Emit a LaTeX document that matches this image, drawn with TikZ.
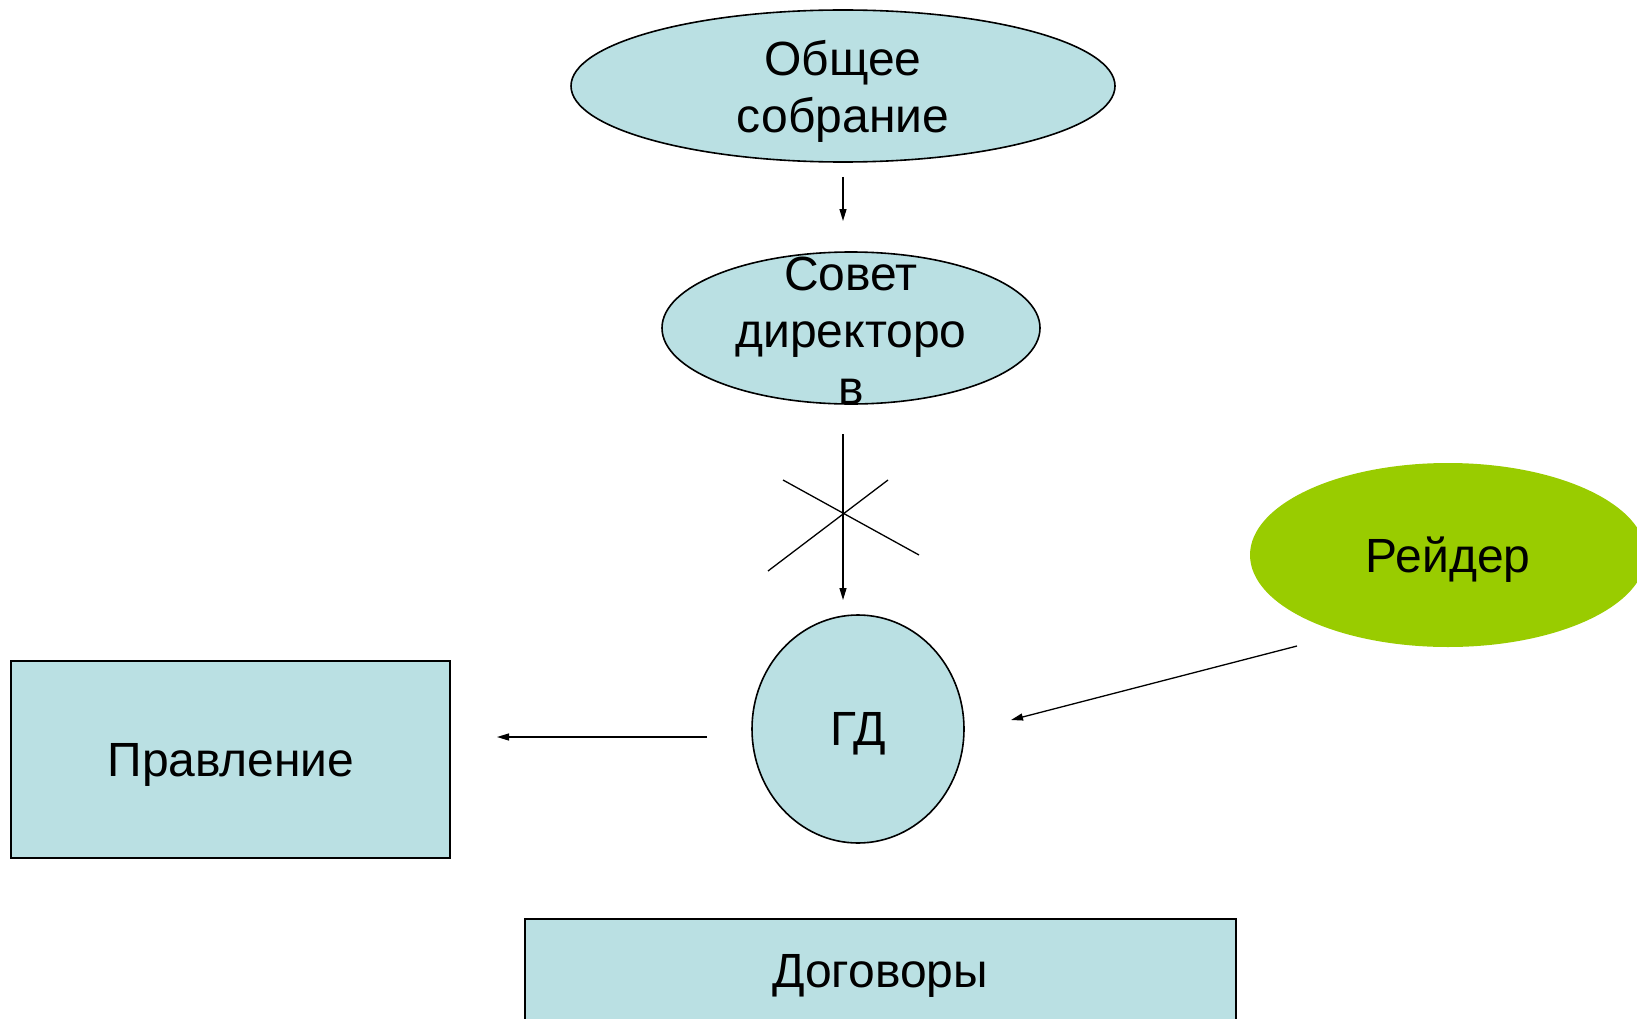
\documentclass[tikz,border=0pt]{standalone}
\usepackage{fontspec}
\setmainfont{Liberation Sans}
\usetikzlibrary{shapes.geometric,arrows.meta}
\definecolor{lblue}{RGB}{186,224,227}
\definecolor{rgreen}{RGB}{153,204,0}
\begin{document}
\begin{tikzpicture}[x=1pt,y=-1pt,
  shapebox/.style={draw=black,line width=1.6pt,fill=lblue,inner sep=0pt},
  oval/.style={shapebox,ellipse},
  lbl/.style={font=\fontsize{48}{56}\selectfont,align=center,inner sep=0pt},
  conn/.style={line width=1.3pt,-{Triangle[length=12pt,width=7pt]}},
  cross/.style={line width=1.3pt}]
\useasboundingbox (0,0) rectangle (1637,1019);
\clip (0,0) rectangle (1637,1019);
% nodes
\node[oval,minimum width=544pt,minimum height=152pt] (os) at (843,86) {};
\node[lbl,font=\fontsize{48}{57}\selectfont] (ost) at (843,91) {Общее\\собрание};
\node[oval,minimum width=378pt,minimum height=152pt] (sd) at (851,328) {};
\node[lbl,font=\fontsize{48}{57}\selectfont] (sdt) at (851,331) {Совет\\директоро\\в};
\node[oval,minimum width=212pt,minimum height=228pt] (gd) at (858,729) {};
\node[lbl] (gdt) at (858,734) {ГД};
\node[ellipse,fill=rgreen,inner sep=0pt,minimum width=396pt,minimum height=184pt] (rd) at (1448,555) {};
\node[lbl] (rdt) at (1448,560) {Рейдер};
\node[shapebox,rectangle,minimum width=439pt,minimum height=197pt] (pr) at (230.5,759.5) {};
\node[lbl] (prt) at (231,765) {Правление};
\node[shapebox,rectangle,minimum width=711pt,minimum height=140pt] (dg) at (880.5,989) {};
\node[lbl] (dgt) at (880,976) {Договоры};
% connector end points
\coordinate (a1s) at (843,177);
\coordinate (a1e) at (843,221);
\coordinate (a2s) at (843,434);
\coordinate (a2e) at (843,600);
\coordinate (a3s) at (1297,646);
\coordinate (a3e) at (1011,720);
\coordinate (a4s) at (707,737);
\coordinate (a4e) at (497,737);
\coordinate (x1a) at (783,480);
\coordinate (x1b) at (919,555);
\coordinate (x2a) at (888,480);
\coordinate (x2b) at (768,571);
% connectors
\draw[conn] (a1s) -- (a1e);
\draw[conn] (a2s) -- (a2e);
\draw[conn] (a3s) -- (a3e);
\draw[conn] (a4s) -- (a4e);
\draw[cross] (x1a) -- (x1b);
\draw[cross] (x2a) -- (x2b);
\end{tikzpicture}
\end{document}
